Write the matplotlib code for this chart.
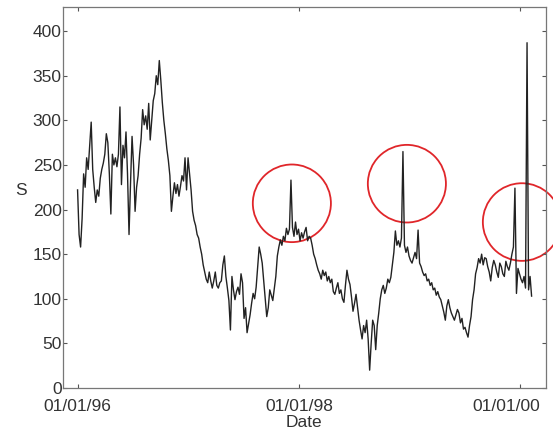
import matplotlib
matplotlib.use("Agg")
import matplotlib.pyplot as plt
import matplotlib.dates as mdates
import matplotlib.transforms as mtransforms
from matplotlib.patches import Ellipse
import numpy as np
import pandas as pd

START = "1996-01-01"
STEP = "5D"

S = [
    222, 172, 158, 190, 240, 225, 258, 245, 272, 298,
    245, 225, 208, 222, 215, 235, 245, 252, 262, 285,
    275, 240, 195, 262, 250, 258, 248, 262, 315, 228,
    272, 258, 287, 240, 172, 230, 282, 250, 198, 225,
    238, 262, 280, 312, 295, 305, 290, 319, 278, 300,
    322, 330, 350, 340, 367, 345, 320, 300, 285, 268,
    255, 238, 198, 215, 230, 218, 228, 215, 226, 238,
    232, 258, 222, 258, 240, 222, 198, 188, 182, 172,
    168, 158, 150, 138, 130, 122, 118, 130, 120, 112,
    120, 130, 115, 112, 118, 120, 138, 148, 125, 112,
    98, 65, 125, 110, 99, 108, 113, 105, 128, 118,
    78, 90, 62, 72, 82, 95, 106, 100, 113, 135,
    158, 150, 140, 120, 100, 80, 90, 110, 104, 98,
    112, 125, 148, 158, 166, 160, 170, 165, 179, 172,
    178, 233, 180, 170, 186, 172, 178, 165, 174, 168,
    175, 180, 165, 170, 168, 160, 150, 145, 138, 132,
    128, 122, 132, 126, 130, 120, 125, 118, 122, 108,
    105, 112, 118, 106, 110, 100, 96, 115, 132, 122,
    116, 102, 86, 95, 105, 90, 76, 65, 55, 70,
    62, 76, 55, 20, 50, 76, 70, 43, 70, 84,
    100, 110, 115, 106, 112, 122, 118, 124, 138, 152,
    176, 160, 165, 158, 168, 265, 160, 152, 158, 148,
    143, 140, 146, 152, 145, 177, 140, 136, 130, 126,
    128, 120, 122, 115, 118, 110, 112, 104, 108, 102,
    99, 92, 85, 76, 92, 99, 90, 84, 80, 76,
    82, 88, 84, 73, 78, 66, 68, 62, 57, 70,
    80, 99, 110, 128, 135, 145, 140, 150, 138, 146,
    145, 136, 130, 120, 135, 143, 138, 130, 124, 140,
    136, 128, 125, 142, 136, 132, 140, 150, 158, 224,
    106, 134, 128, 122, 118, 125, 112, 387, 110, 125,
    103,
]

# circled spike regions: centre date, centre value
CIRCLE_DATES = ["1997-12-09", "1998-12-24", "2000-01-08"]
CIRCLE_VALUES = [207, 229, 186]

X_TICKS = ["1996-01-01", "1998-01-01", "2000-01-01"]
Y_TICKS = [0, 50, 100, 150, 200, 250, 300, 350, 400]

plt.rcParams["font.family"] = ["Liberation Sans", "DejaVu Sans"]

dates = pd.date_range(START, periods=len(S), freq=STEP)

fig = plt.figure(figsize=(5.53, 4.29), dpi=100)
ax = fig.add_axes([0.114, 0.0956, 0.873, 0.888])

ax.plot(dates, S, color="#222222", linewidth=1.0)

ax.set_xlim(pd.Timestamp("1995-11-14"), pd.Timestamp("2000-03-27"))
ax.set_ylim(0, 427)
ax.set_xticks(pd.to_datetime(X_TICKS))
ax.xaxis.set_major_formatter(mdates.DateFormatter("%m/%d/%y"))
ax.set_yticks(Y_TICKS)

ax.tick_params(direction="in", top=True, right=True, length=3,
               labelsize=12.5, colors="#555555", labelcolor="#333333")
ax.tick_params(axis="x", pad=8)
ax.tick_params(axis="y", pad=1)
for sp in ax.spines.values():
    sp.set_color("#777777")
    sp.set_linewidth(0.9)

# last date label sits a bit left of its tick in the original
last = ax.get_xticklabels()[-1]
last.set_transform(last.get_transform() +
                   mtransforms.ScaledTranslation(-0.14, 0, fig.dpi_scale_trans))

ax.set_xlabel("Date", fontsize=12.5, color="#333333", labelpad=1)
ax.set_ylabel("S", fontsize=12.5, color="#333333", rotation=0, labelpad=8)

# ellipses sized in data units so they look round (about 78 px across)
width_days = 258
height_val = 87
for d, v in zip(CIRCLE_DATES, CIRCLE_VALUES):
    e = Ellipse((mdates.date2num(pd.Timestamp(d)), v), width_days, height_val,
                fill=False, edgecolor="#e0262a", linewidth=1.3, clip_on=False)
    ax.add_patch(e)

fig.savefig("out.png", dpi=100)
plt.close(fig)
